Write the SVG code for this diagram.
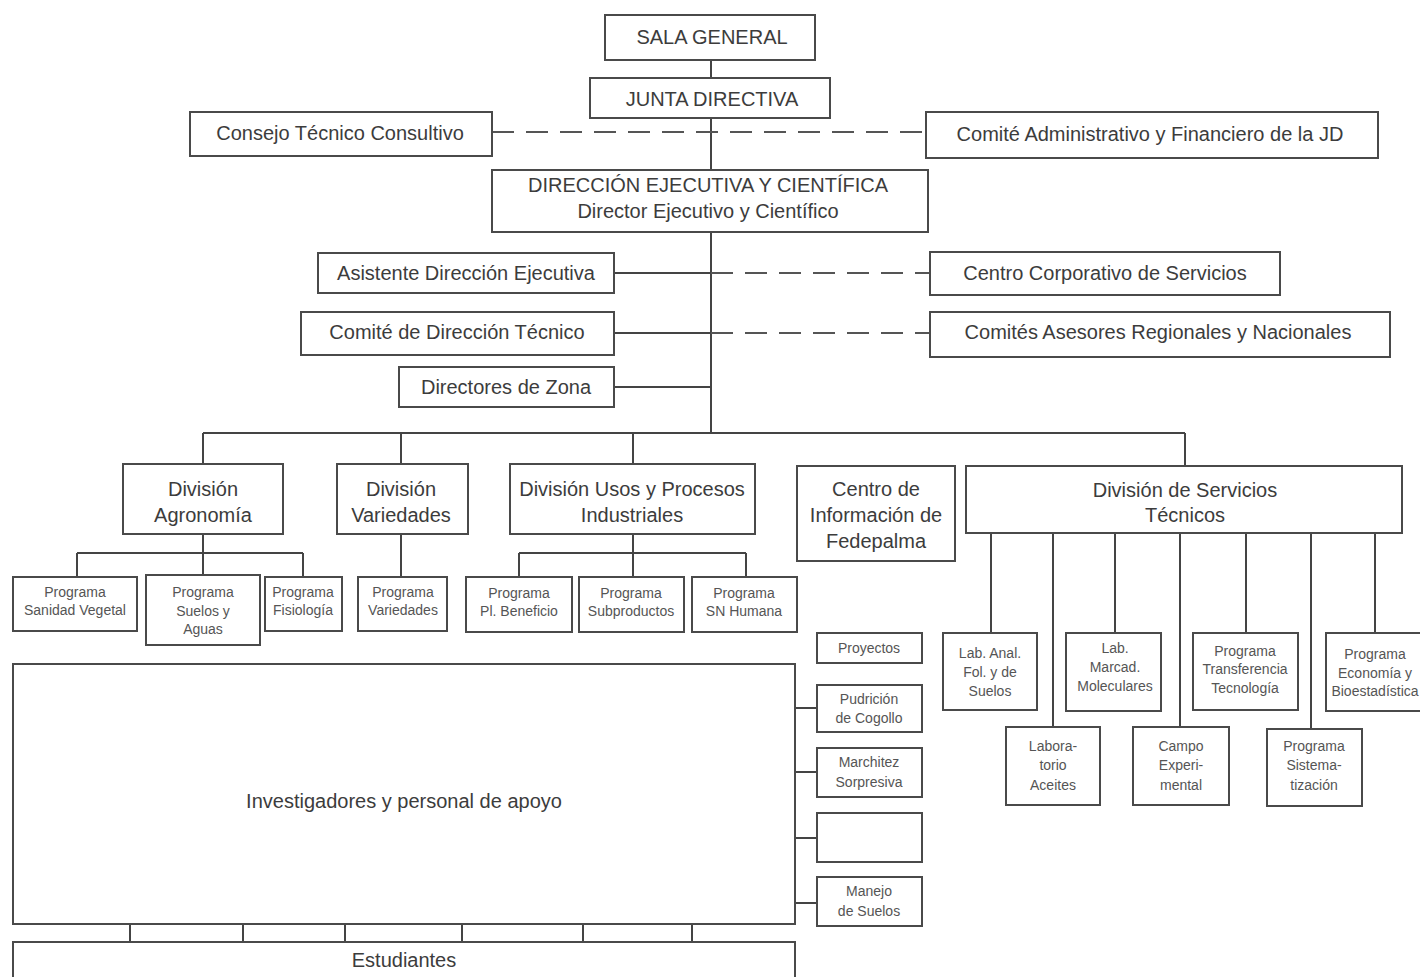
<svg xmlns="http://www.w3.org/2000/svg" width="1420" height="977" viewBox="0 0 1420 977">
<style>
.b{fill:#fff;stroke:#4a4a4a;stroke-width:2}
.t{font-family:"Liberation Sans",Arial,sans-serif;font-size:20px;fill:#3c3c3c;text-anchor:middle;dominant-baseline:central}
.s{font-family:"Liberation Sans",Arial,sans-serif;font-size:14px;fill:#555;text-anchor:middle;dominant-baseline:central}
.l{fill:none;stroke:#444;stroke-width:2}
.d{fill:none;stroke:#555;stroke-width:2;stroke-dasharray:22,12}
</style>
<rect width="1420" height="977" fill="#fff"/>
<g id="connectors">
<path class="l" d="M711 60V78M711 118V170M711 232V433"/>
<path class="d" d="M492 132H926"/>
<path class="l" d="M614 273H711M614 333H711M614 387H711"/>
<path class="d" d="M711 273H930M711 333H930"/>
<path class="l" d="M203 433H1185M203 433V464M401 433V464M633 433V464M1185 433V466"/>
<path class="l" d="M203 534V575M77 553H303M77 553V577M303 553V577"/>
<path class="l" d="M401 534V577"/>
<path class="l" d="M633 534V577M519 553H746M519 553V577M746 553V577"/>
<path class="l" d="M991 533V633M1053 533V727M1115 533V633M1180 533V727M1246 533V633M1311 533V729M1375 533V633"/>
<path class="l" d="M795 708H817M795 772H817M795 838H817M795 903H817"/>
<path class="l" d="M130 924V942M243 924V942M345 924V942M462 924V942M583 924V942M692 924V942"/>
</g>
<g id="sala"><rect class="b" x="605" y="15" width="210" height="45"/><text class="t" x="712" y="37">SALA GENERAL</text></g>
<g id="junta"><rect class="b" x="590" y="78" width="240" height="40"/><text class="t" x="712" y="99">JUNTA DIRECTIVA</text></g>
<g id="consejo"><rect class="b" x="190" y="112" width="302" height="44"/><text class="t" x="340" y="133">Consejo Técnico Consultivo</text></g>
<g id="comite-adm"><rect class="b" x="926" y="112" width="452" height="46"/><text class="t" x="1150" y="134">Comité Administrativo y Financiero de la JD</text></g>
<g id="direccion"><rect class="b" x="492" y="170" width="436" height="62"/><text class="t" x="708" y="185">DIRECCIÓN EJECUTIVA Y CIENTÍFICA</text><text class="t" x="708" y="211">Director Ejecutivo y Científico</text></g>
<g id="asistente"><rect class="b" x="318" y="253" width="296" height="40"/><text class="t" x="466" y="273">Asistente Dirección Ejecutiva</text></g>
<g id="centro-corp"><rect class="b" x="930" y="252" width="350" height="43"/><text class="t" x="1105" y="273">Centro Corporativo de Servicios</text></g>
<g id="comite-dir"><rect class="b" x="301" y="312" width="313" height="43"/><text class="t" x="457" y="332">Comité de Dirección Técnico</text></g>
<g id="comites-ases"><rect class="b" x="930" y="312" width="460" height="45"/><text class="t" x="1158" y="332">Comités Asesores Regionales y Nacionales</text></g>
<g id="directores"><rect class="b" x="399" y="367" width="215" height="40"/><text class="t" x="506" y="387">Directores de Zona</text></g>
<g id="div-agro"><rect class="b" x="123" y="464" width="160" height="70"/><text class="t" x="203" y="489">División</text><text class="t" x="203" y="515">Agronomía</text></g>
<g id="div-var"><rect class="b" x="337" y="464" width="131" height="70"/><text class="t" x="401" y="489">División</text><text class="t" x="401" y="515">Variedades</text></g>
<g id="div-usos"><rect class="b" x="510" y="464" width="245" height="70"/><text class="t" x="632" y="489">División Usos y Procesos</text><text class="t" x="632" y="515">Industriales</text></g>
<g id="centro-info"><rect class="b" x="797" y="466" width="158" height="95"/><text class="t" x="876" y="489">Centro de</text><text class="t" x="876" y="515">Información de</text><text class="t" x="876" y="541">Fedepalma</text></g>
<g id="div-serv"><rect class="b" x="966" y="466" width="436" height="67"/><text class="t" x="1185" y="490">División de Servicios</text><text class="t" x="1185" y="515">Técnicos</text></g>
<g id="p-sanidad"><rect class="b" x="13" y="577" width="124" height="54"/><text class="s" x="75" y="592">Programa</text><text class="s" x="75" y="610">Sanidad Vegetal</text></g>
<g id="p-suelos"><rect class="b" x="146" y="575" width="114" height="70"/><text class="s" x="203" y="592">Programa</text><text class="s" x="203" y="611">Suelos y</text><text class="s" x="203" y="629">Aguas</text></g>
<g id="p-fisio"><rect class="b" x="265" y="577" width="77" height="54"/><text class="s" x="303" y="592">Programa</text><text class="s" x="303" y="610">Fisiología</text></g>
<g id="p-var"><rect class="b" x="358" y="577" width="89" height="54"/><text class="s" x="403" y="592">Programa</text><text class="s" x="403" y="610">Variedades</text></g>
<g id="p-benef"><rect class="b" x="466" y="577" width="106" height="55"/><text class="s" x="519" y="593">Programa</text><text class="s" x="519" y="611">Pl. Beneficio</text></g>
<g id="p-subp"><rect class="b" x="579" y="577" width="105" height="55"/><text class="s" x="631" y="593">Programa</text><text class="s" x="631" y="611">Subproductos</text></g>
<g id="p-snh"><rect class="b" x="692" y="577" width="105" height="55"/><text class="s" x="744" y="593">Programa</text><text class="s" x="744" y="611">SN Humana</text></g>
<g id="lab-anal"><rect class="b" x="943" y="633" width="94" height="77"/><text class="s" x="990" y="653">Lab. Anal.</text><text class="s" x="990" y="672">Fol. y de</text><text class="s" x="990" y="691">Suelos</text></g>
<g id="lab-marcad"><rect class="b" x="1066" y="633" width="95" height="78"/><text class="s" x="1115" y="648">Lab.</text><text class="s" x="1115" y="667">Marcad.</text><text class="s" x="1115" y="686">Moleculares</text></g>
<g id="p-transf"><rect class="b" x="1193" y="633" width="105" height="77"/><text class="s" x="1245" y="651">Programa</text><text class="s" x="1245" y="669">Transferencia</text><text class="s" x="1245" y="688">Tecnología</text></g>
<g id="p-econ"><rect class="b" x="1326" y="633" width="100" height="78"/><text class="s" x="1375" y="654">Programa</text><text class="s" x="1375" y="673">Economía y</text><text class="s" x="1375" y="691">Bioestadística</text></g>
<g id="lab-aceites"><rect class="b" x="1006" y="727" width="94" height="78"/><text class="s" x="1053" y="746">Labora-</text><text class="s" x="1053" y="765">torio</text><text class="s" x="1053" y="785">Aceites</text></g>
<g id="campo"><rect class="b" x="1133" y="727" width="96" height="78"/><text class="s" x="1181" y="746">Campo</text><text class="s" x="1181" y="765">Experi-</text><text class="s" x="1181" y="785">mental</text></g>
<g id="p-sistem"><rect class="b" x="1267" y="729" width="95" height="77"/><text class="s" x="1314" y="746">Programa</text><text class="s" x="1314" y="765">Sistema-</text><text class="s" x="1314" y="785">tización</text></g>
<g id="proyectos"><rect class="b" x="817" y="633" width="105" height="30"/><text class="s" x="869" y="648">Proyectos</text></g>
<g id="pudricion"><rect class="b" x="817" y="685" width="105" height="47"/><text class="s" x="869" y="699">Pudrición</text><text class="s" x="869" y="718">de Cogollo</text></g>
<g id="marchitez"><rect class="b" x="817" y="748" width="105" height="49"/><text class="s" x="869" y="762">Marchitez</text><text class="s" x="869" y="782">Sorpresiva</text></g>
<g id="vacio"><rect class="b" x="817" y="813" width="105" height="49"/></g>
<g id="manejo"><rect class="b" x="817" y="877" width="105" height="49"/><text class="s" x="869" y="891">Manejo</text><text class="s" x="869" y="911">de Suelos</text></g>
<g id="investigadores"><rect class="b" x="13" y="664" width="782" height="260"/><text class="t" x="404" y="801">Investigadores y personal de apoyo</text></g>
<g id="estudiantes"><rect class="b" x="13" y="942" width="782" height="50"/><text class="t" x="404" y="960">Estudiantes</text></g>
</svg>
